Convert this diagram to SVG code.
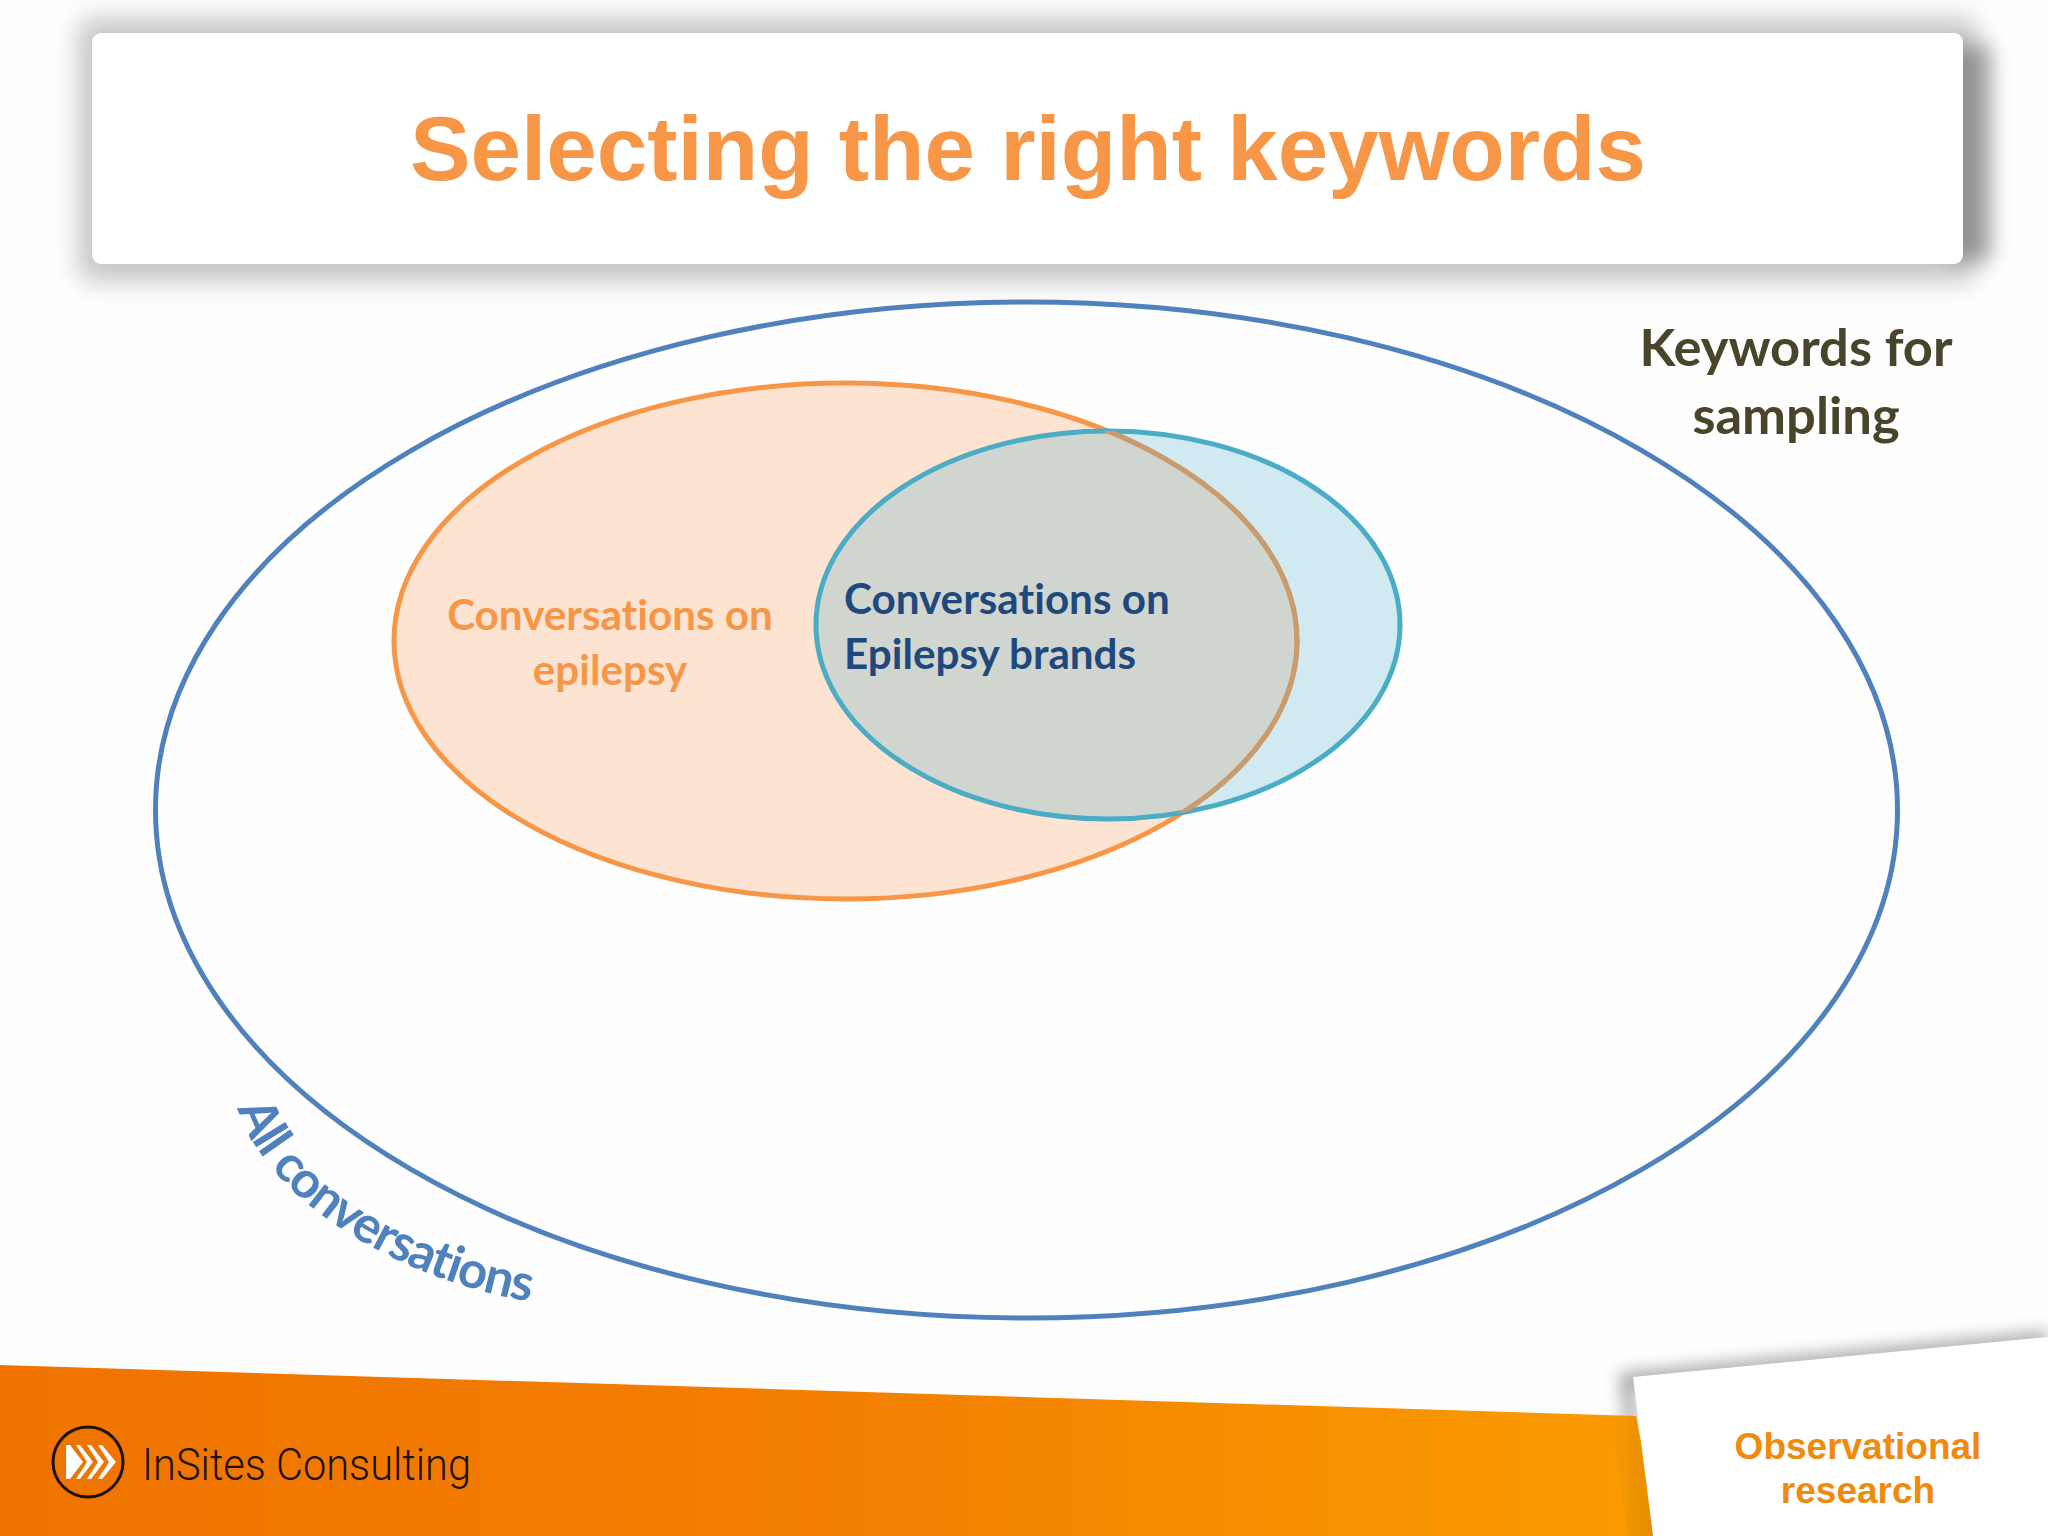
<svg xmlns="http://www.w3.org/2000/svg" width="2048" height="1536" viewBox="0 0 2048 1536">
<defs>
<style>
.sans{font-family:"Lato","Carlito","Open Sans",sans-serif;font-weight:700;font-variant-ligatures:none}
.ar{font-family:"Liberation Sans",Arial,sans-serif;font-weight:700}
.mid{text-anchor:middle}
</style>
<linearGradient id="band" x1="0" y1="0" x2="1" y2="0"><stop offset="0" stop-color="#ef7300"/><stop offset="0.5" stop-color="#f37f00"/><stop offset="1" stop-color="#fb9c00"/></linearGradient>
<linearGradient id="edge" x1="0" y1="0" x2="1" y2="0"><stop offset="0" stop-color="#000" stop-opacity="0"/><stop offset="1" stop-color="#000" stop-opacity="0.1"/></linearGradient>
<filter id="b1" x="-10%" y="-40%" width="120%" height="180%"><feGaussianBlur stdDeviation="13"/></filter>
<filter id="b2" x="-100%" y="-20%" width="300%" height="140%"><feGaussianBlur stdDeviation="10"/></filter>
<filter id="b3" x="-10%" y="-30%" width="120%" height="160%"><feGaussianBlur stdDeviation="8"/></filter>
<clipPath id="tealClip"><ellipse cx="1108" cy="625" rx="292" ry="194"/></clipPath>
<path id="curve" d="M238 1108 C265 1200 402 1284 545 1304"/>
</defs>
<rect width="2048" height="1536" fill="#fefefe"/>
<g id="title-card">
<rect x="78" y="18" width="1900" height="264" rx="14" fill="#000" opacity="0.22" filter="url(#b1)"/>
<rect x="1950" y="46" width="42" height="214" fill="#000" opacity="0.3" filter="url(#b2)"/>
<rect x="92" y="33" width="1871" height="231" rx="9" fill="#fff"/>
<text class="ar mid" x="1028" y="180" font-size="90" fill="#f79646" textLength="1236" lengthAdjust="spacingAndGlyphs">Selecting the right keywords</text>
</g>
<g id="footer">
<polygon points="1618,1372 2048,1330 2048,1350 1634,1392 1640,1425 1624,1425" fill="#000" opacity="0.3" filter="url(#b3)"/>
<polygon points="0,1365 1636,1416 1660,1536 0,1536" fill="url(#band)"/>
<polygon points="1610,1415 1636,1416 1654,1536 1628,1536" fill="url(#edge)"/>
<polygon points="1633,1377 2048,1337 2048,1536 1653,1536" fill="#fff"/>
<text class="ar mid" x="1858" y="1459" font-size="37" fill="#ef8a0c">Observational</text>
<text class="ar mid" x="1858" y="1503" font-size="37" fill="#ef8a0c">research</text>
</g>
<g id="logo">
<ellipse cx="88" cy="1462" rx="35" ry="35" fill="none" stroke="#1c1208" stroke-width="3"/>
<g fill="#fff"><polygon points="66,1445 70,1445 83,1462 70,1479 66,1479"/><polygon points="76,1445 80,1445 93,1462 80,1479 76,1479 87,1462"/><polygon points="87,1445 91,1445 104,1462 91,1479 87,1479 98,1462"/><polygon points="98,1445 102,1445 116,1462 102,1479 98,1479 109,1462"/></g>
<text x="142" y="1480" font-family="Roboto,'Liberation Sans',sans-serif" font-weight="300" font-size="45" fill="#1c1208" textLength="329" lengthAdjust="spacingAndGlyphs">InSites Consulting</text>
</g>
<g id="all-conversations">
<ellipse cx="1026.5" cy="810" rx="871" ry="508" fill="#fefefe" stroke="#4f81bd" stroke-width="5"/>
<text class="sans" font-size="51" fill="#4f81bd"><textPath href="#curve" textLength="366" lengthAdjust="spacing">All conversations</textPath></text>
</g>
<g id="epilepsy">
<ellipse cx="845.5" cy="641" rx="451.5" ry="258" fill="#fde4d2" stroke="#f79646" stroke-width="5"/>
<text class="sans mid" x="610" y="630" font-size="42.2" fill="#f79646">Conversations on</text>
<text class="sans mid" x="610" y="685" font-size="42.2" fill="#f79646">epilepsy</text>
</g>
<g id="brands">
<ellipse cx="1108" cy="625" rx="292" ry="194" fill="#4bacc6" fill-opacity="0.25" stroke="#4bacc6" stroke-width="5"/>
<g clip-path="url(#tealClip)"><ellipse cx="845.5" cy="641" rx="451.5" ry="258" fill="none" stroke="#c89c6e" stroke-width="5"/></g>
<text class="sans" x="844" y="614" font-size="42.2" fill="#1f497d">Conversations on</text>
<text class="sans" x="844" y="669" font-size="42.2" fill="#1f497d">Epilepsy brands</text>
</g>
<g id="keywords-label">
<text class="sans mid" x="1796" y="366" font-size="52.5" fill="#4a452a">Keywords for</text>
<text class="sans mid" x="1796" y="434" font-size="52.5" fill="#4a452a">sampling</text>
</g>
<g id="connectors"/>
</svg>
